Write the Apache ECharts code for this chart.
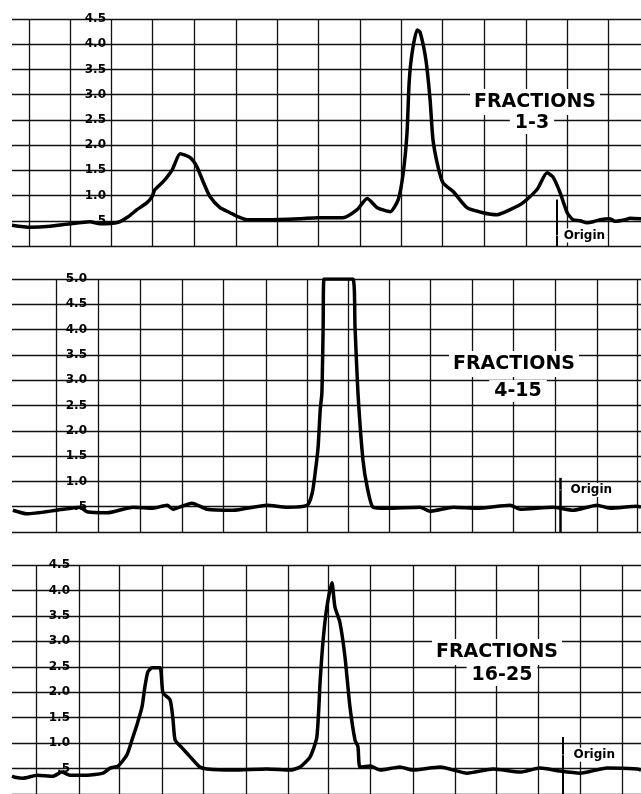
<!DOCTYPE html>
<html>
<head>
<meta charset="utf-8">
<title>Fractions scans</title>
<style>
  html, body { margin: 0; padding: 0; background: #fff; }
  #chart { width: 641px; height: 794px; }
</style>
</head>
<body>
<div id="chart"></div>
<script src="https://cdn.jsdelivr.net/npm/echarts@6.0.0/dist/echarts.min.js"></script>
<script>
// scan traces: [distance along strip (0-150), absorbance]
var fractions1to3 = [
  [0, 0.41], [4.3, 0.37], [9.1, 0.39], [13.8, 0.44], [18.6, 0.48], [21.0, 0.44],
  [25.3, 0.47], [27.7, 0.58], [29.8, 0.72], [32.2, 0.86], [33.4, 0.98], [34.1, 1.12],
  [36.0, 1.27], [38.2, 1.51], [40.1, 1.83], [42.5, 1.75], [44.1, 1.57], [45.6, 1.27],
  [47.2, 0.98], [49.6, 0.76], [52.0, 0.66], [53.9, 0.58], [56.0, 0.52], [60.8, 0.52],
  [68.7, 0.54], [73.0, 0.56], [78.9, 0.56], [82.3, 0.72], [84.7, 0.94], [87.1, 0.76],
  [90.2, 0.68], [92.1, 0.92], [93.3, 1.45], [94.2, 2.24], [94.7, 3.23], [95.4, 3.82],
  [96.6, 4.28], [97.3, 4.24], [98.7, 3.69], [99.7, 2.9], [100.4, 2.1], [101.6, 1.57],
  [102.8, 1.25], [105.2, 1.08], [108.5, 0.76], [112.3, 0.66], [115.7, 0.62], [118.8, 0.72],
  [121.9, 0.86], [125.2, 1.12], [127.6, 1.45], [129.0, 1.37], [130.7, 1.06], [132.4, 0.66],
  [133.8, 0.52], [135.5, 0.50], [137.1, 0.46], [138.6, 0.48], [140.2, 0.52], [142.6, 0.54],
  [143.8, 0.49], [146.2, 0.52], [147.4, 0.55], [150, 0.54]
];
var fractions4to15 = [
  [0.2, 0.43], [3.6, 0.36], [10.7, 0.43], [16.2, 0.49], [17.9, 0.40], [22.7, 0.38],
  [28.9, 0.49], [33.6, 0.47], [37.0, 0.53], [38.4, 0.45], [42.9, 0.57], [46.5, 0.45],
  [52.7, 0.43], [60.8, 0.53], [65.6, 0.49], [70.4, 0.53], [71.6, 0.77], [72.3, 1.17],
  [73.0, 1.68], [73.5, 2.41], [73.9, 2.75], [74.2, 4.05], [74.4, 5.0], [81.3, 5.0],
  [81.8, 4.05], [82.5, 2.75], [83.7, 1.42], [84.7, 0.89], [86.1, 0.49], [89.4, 0.47],
  [97.3, 0.49], [99.7, 0.41], [105.2, 0.49], [110.9, 0.47], [118.8, 0.53], [121.2, 0.45],
  [129.0, 0.49], [133.8, 0.43], [139.5, 0.53], [142.6, 0.47], [149.1, 0.51], [150, 0.49]
];
var fractions16to25 = [
  [0, 0.35], [0.7, 0.33], [2.6, 0.31], [6.0, 0.37], [9.8, 0.35], [11.9, 0.43], [13.8, 0.37],
  [17.9, 0.37], [21.7, 0.41], [23.4, 0.51], [25.3, 0.55], [27.4, 0.77], [28.6, 1.06],
  [29.8, 1.36], [31.0, 1.71], [31.7, 2.11], [32.4, 2.40], [33.4, 2.48], [35.3, 2.48],
  [36.0, 1.99], [37.7, 1.85], [38.4, 1.46], [38.9, 1.06], [40.5, 0.91], [42.5, 0.73],
  [44.8, 0.53], [46.5, 0.49], [52.7, 0.47], [60.8, 0.49], [66.3, 0.47], [68.7, 0.53],
  [71.1, 0.73], [72.7, 1.12], [73.5, 2.24], [74.2, 3.03], [75.1, 3.68], [76.3, 4.15],
  [77.0, 3.68], [78.2, 3.37], [79.4, 2.70], [80.6, 1.71], [81.8, 1.06], [82.5, 0.93],
  [83.0, 0.53], [85.4, 0.55], [87.8, 0.47], [92.5, 0.53], [95.6, 0.47], [102.1, 0.53],
  [108.5, 0.41], [114.7, 0.49], [121.2, 0.43], [125.9, 0.51], [130.7, 0.45], [135.5, 0.41],
  [141.9, 0.51], [149.1, 0.49], [150, 0.47]
];

// chart paper rulings (distance units) for each strip
var paperLines1 = [4.05, 13.83, 23.61, 33.39, 43.41, 53.42, 63.2, 72.98, 83.0, 92.78, 102.56, 112.57, 122.59, 132.37, 142.15];
var paperLines2 = [10.49, 20.51, 30.53, 40.55, 50.32, 60.58, 70.36, 80.14, 89.91, 99.69, 109.71, 119.49, 129.51, 139.52, 149.06];
var paperLines3 = [5.89, 15.98, 25.59, 35.94, 45.62, 55.98, 65.9, 75.44, 85.55, 95.57, 105.66, 115.6, 125.52, 135.47, 145.41];

var traceTitles = ['FRACTIONS', 'FRACTIONS', 'FRACTIONS'];
var traceRanges = ['1-3', '4-15', '16-25'];
var yMaxes = [4.5, 5.0, 4.5];
var originX = [130.0, 130.7, 131.4];
var originTop = [0.92, 1.07, 1.12];
var originLabelY = [0.21, 0.83, 0.77];

var traces = [fractions1to3, fractions4to15, fractions16to25];
var paperLines = [paperLines1, paperLines2, paperLines3];

// layout
var gridTops = [19, 279, 565];
var gridHeights = [227, 253, 229];
var labelMargins = [94, 75, 58];
var titlePos = [[535, 102], [514, 364], [497, 652]];
var rangePos = [[532, 123], [518, 391], [502, 675]];

var chart = echarts.init(document.getElementById('chart'));

var grids = [], xAxes = [], yAxes = [], series = [], graphics = [];

for (var i = 0; i < 3; i++) {
  grids.push({
    left: 12, right: 0, top: gridTops[i], height: gridHeights[i],
    outerBoundsMode: 'none'
  });
  xAxes.push({
    type: 'value', gridIndex: i, min: 0, max: 150,
    axisLine: { show: false },
    axisLabel: { show: false },
    axisTick: { show: false, customValues: paperLines[i] },
    splitLine: { show: true, lineStyle: { color: '#111', width: 1.3 } }
  });
  yAxes.push({
    type: 'value', gridIndex: i, min: 0, max: yMaxes[i], interval: 0.5,
    axisLine: { show: false },
    axisTick: { show: false },
    axisLabel: {
      inside: true, align: 'right', margin: labelMargins[i],
      color: '#000', fontFamily: 'DejaVu Sans', fontWeight: 'bold', fontSize: 12,
      formatter: function (v) {
        if (v === 0) return '';
        if (v === 0.5) return '.5';
        return v.toFixed(1);
      }
    },
    splitLine: { show: true, lineStyle: { color: '#111', width: 1.3 } }
  });
  series.push({
    type: 'line', xAxisIndex: i, yAxisIndex: i,
    data: traces[i],
    showSymbol: false,
    smooth: 0.2,
    lineStyle: { color: '#000', width: 3.5 },
    z: 5,
    markLine: {
      silent: true, symbol: 'none',
      lineStyle: { color: '#000', width: i === 1 ? 2.5 : 2, type: 'solid' },
      label: { show: false },
      data: [[{ coord: [originX[i], originTop[i]] }, { coord: [originX[i], 0] }]]
    },
    markPoint: {
      silent: true, symbol: 'rect', symbolSize: 1,
      itemStyle: { color: '#fff' },
      label: {
        show: true, position: 'right', distance: i === 0 ? 4 : 8,
        formatter: 'Origin', color: '#000',
        fontFamily: 'DejaVu Sans', fontWeight: 'bold', fontSize: 12,
        backgroundColor: '#fff', padding: [1, 2]
      },
      data: [{ coord: [originX[i], originLabelY[i]] }]
    }
  });
  graphics.push({
    type: 'text', x: titlePos[i][0], y: titlePos[i][1], z: 100,
    style: {
      text: traceTitles[i], fill: '#000', font: 'bold 19px "DejaVu Sans"',
      align: 'center', verticalAlign: 'middle',
      backgroundColor: '#fff', padding: [3, 4, 4, 4]
    }
  });
  graphics.push({
    type: 'text', x: rangePos[i][0], y: rangePos[i][1], z: 100,
    style: {
      text: traceRanges[i], fill: '#000', font: 'bold 19px "DejaVu Sans"',
      align: 'center', verticalAlign: 'middle',
      backgroundColor: '#fff', padding: [1, 5, 2, 5]
    }
  });
}

chart.setOption({
  backgroundColor: '#fff',
  animation: false,
  grid: grids,
  xAxis: xAxes,
  yAxis: yAxes,
  series: series,
  graphic: graphics
});
</script>
</body>
</html>
